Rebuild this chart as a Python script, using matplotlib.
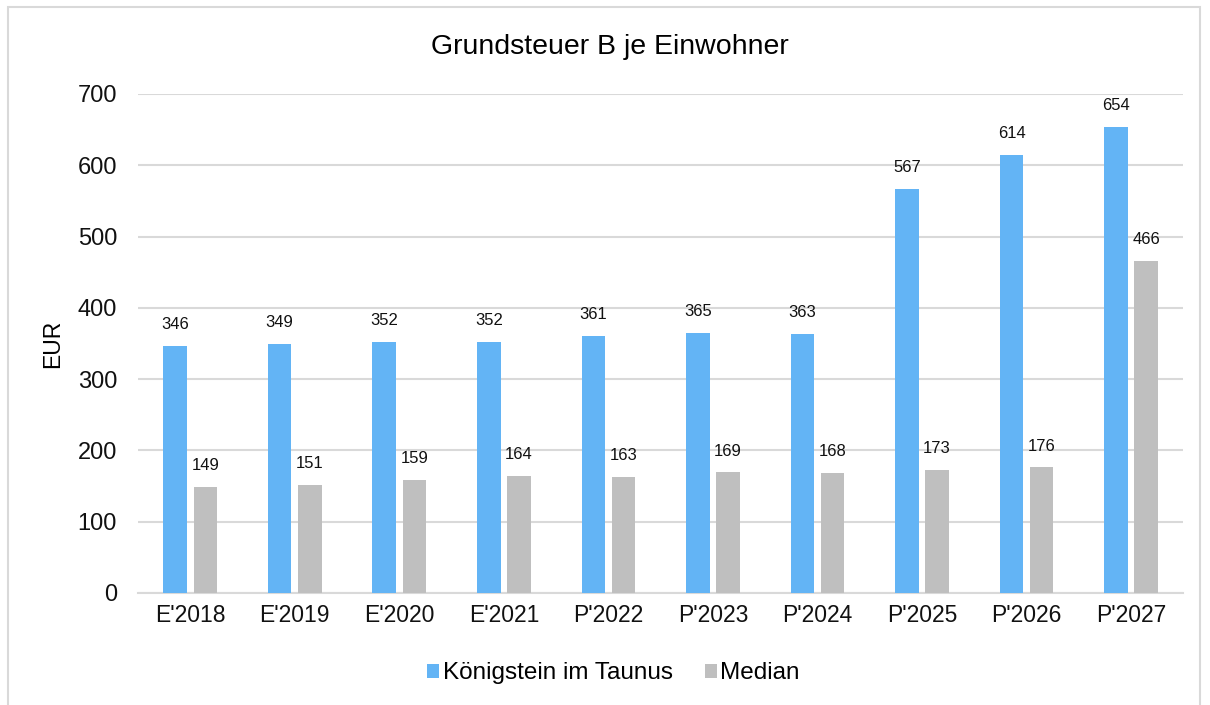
import numpy as np
import matplotlib.pyplot as plt
from matplotlib.patches import Rectangle

plt.rcParams['font.family'] = ['Liberation Sans', 'DejaVu Sans']

# data
years = ["E'2018", "E'2019", "E'2020", "E'2021", "P'2022", "P'2023", "P'2024", "P'2025", "P'2026", "P'2027"]
koenigstein = [346, 349, 352, 352, 361, 365, 363, 567, 614, 654]
median = [149, 151, 159, 164, 163, 169, 168, 173, 176, 466]

blue = "#63b4f5"
gray = "#bfbfbf"

fig = plt.figure(figsize=(12.1, 7.05), dpi=100)
ax = fig.add_axes([0.114, 0.159, 0.864, 0.7077])

x = np.arange(len(years))
w = 0.225
off = 0.144
b1 = ax.bar(x - off, koenigstein, w, color=blue, label="Königstein im Taunus", zorder=3)
b2 = ax.bar(x + off, median, w, color=gray, label="Median", zorder=3)

for bars in (b1, b2):
    for r in bars:
        ax.annotate(f"{int(r.get_height())}", (r.get_x() + r.get_width() / 2, r.get_height()),
                    xytext=(0, 10), textcoords="offset points", ha="center", va="bottom",
                    fontsize=12, color="#111111")

ax.set_xlim(-0.5, len(years) - 0.5)
ax.set_ylim(0, 700)
ax.set_yticks(range(0, 701, 100))
ax.set_xticks(x)
ax.set_xticklabels(years)
ax.tick_params(axis="both", length=0, colors="#111111")
ax.tick_params(axis="y", pad=15, labelsize=17)
ax.tick_params(axis="x", pad=8, labelsize=16.5)
ax.grid(axis="y", color="#d9d9d9", lw=1.5, zorder=0)
for s in ["top", "right", "left"]:
    ax.spines[s].set_visible(False)
ax.spines["bottom"].set_color("#d9d9d9")
ax.spines["bottom"].set_linewidth(1.5)

ax.set_ylabel("EUR", fontsize=16.5, labelpad=10)
fig.text(0.504, 0.934, "Grundsteuer B je Einwohner", ha="center", va="center", fontsize=20.5)

fig.legend(handles=[b1, b2], loc="center", bbox_to_anchor=(0.507, 0.045), ncol=2, frameon=False,
           fontsize=17.5, handlelength=0.5, handleheight=0.5, handletextpad=0.15, columnspacing=1.3)

fig.patches.append(Rectangle((0.007, -0.05), 0.985, 1.04, transform=fig.transFigure,
                             fill=False, edgecolor="#d9d9d9", lw=1.5))

fig.savefig("out.png", dpi=100)
